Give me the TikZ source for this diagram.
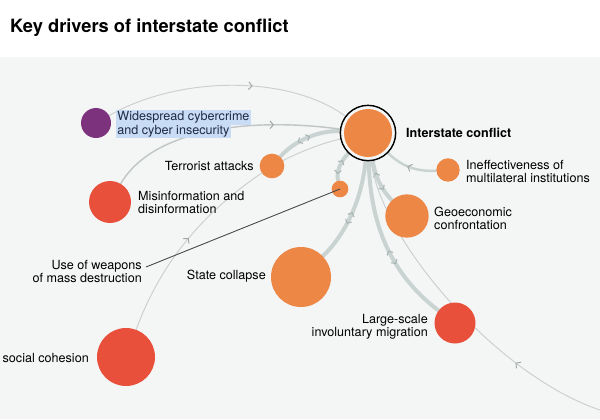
\documentclass[tikz,border=0pt]{standalone}
\usepackage{fontspec}
\setmainfont{TeX Gyre Heros}
\usetikzlibrary{arrows.meta,decorations.markings}
\definecolor{panel}{HTML}{F4F5F5}
\definecolor{hubfill}{HTML}{EC8746}
\definecolor{redfill}{HTML}{E9503C}
\definecolor{cyberfill}{HTML}{7D327E}
\definecolor{linkgray}{HTML}{C9D3D1}
\definecolor{thingray}{HTML}{CACFCF}
\definecolor{tipgray}{HTML}{A9B5B4}
\definecolor{markblue}{HTML}{C8DCF5}
\definecolor{navy}{HTML}{1F2A44}
\pgfdeclarelayer{back}
\pgfsetlayers{back,main}

\begin{document}
\begin{tikzpicture}[
  x=0.03cm, y=-0.03cm,
  lbl/.style={font=\fontsize{10.75}{11.1}\selectfont, inner sep=0pt, align=left},
  rlbl/.style={lbl, align=right},
  risk/.style={circle, inner sep=0pt, outer sep=0pt, fill=hubfill},
  redrisk/.style={risk, fill=redfill},
  hub/.style={circle, inner sep=0pt, outer sep=0pt, minimum size=1.66cm,
    draw=black, line width=1.2pt, fill=panel,
    path picture={\fill[hubfill] (path picture bounding box.center) circle (0.72cm);}},
  cyberbox/.style={lbl, fill=markblue, text=navy, inner xsep=1pt, inner ysep=0.9pt,
    text height=8pt, text depth=2.4pt, anchor=west},
  thinlink/.style={draw=thingray, line width=0.8pt},
  midlink/.style={draw=thingray!95!black, line width=1.2pt},
  thicklink/.style={draw=linkgray, line width=3.4pt},
  leader/.style={draw=black!72, line width=0.75pt},
  fwd/.style={postaction={decorate, decoration={markings,
    mark=at position #1 with {\arrow[thingray!80!black]{Straight Barb[length=3pt,width=6.5pt,line width=0.8pt]}}}}},
  dual/.style 2 args={postaction={decorate, decoration={markings,
    mark=at position #1 with {\arrowreversed[tipgray]{Straight Barb[length=2.6pt,width=5.8pt,line width=0.9pt]}},
    mark=at position #2 with {\arrow[tipgray]{Straight Barb[length=2.6pt,width=5.8pt,line width=0.9pt]}}}}}
]
  \useasboundingbox (0,0) rectangle (600,419);

  \node[hub] (ic) at (368,133) {};
  \node[risk, fill=cyberfill, minimum size=0.9cm] (cyber) at (96,123) {};
  \node[risk, minimum size=0.74cm] (terror) at (272,166) {};
  \node[redrisk, minimum size=1.26cm] (misinfo) at (110,202) {};
  \node[risk, minimum size=0.5cm] (wmd) at (340,189) {};
  \node[risk, minimum size=0.7cm] (ineff) at (448,170) {};
  \node[risk, minimum size=1.3cm] (geo) at (407,216) {};
  \node[risk, minimum size=1.8cm] (state) at (301,277) {};
  \node[redrisk, minimum size=1.23cm] (migr) at (455,323) {};
  \node[redrisk, minimum size=1.74cm] (social) at (126,357) {};
  \coordinate (far) at (606,412);

  \node[font=\fontsize{15.6}{18}\selectfont\bfseries, inner sep=0pt, anchor=west] (titlelbl) at (10,28) {Key drivers of interstate conflict};
  \node[lbl, font=\fontsize{10.75}{11.1}\selectfont\bfseries, anchor=west] (iclbl) at (406,133) {Interstate conflict};
  \node[cyberbox] (cyberlbla) at (116,117.5) {Widespread cybercrime};
  \node[cyberbox] (cyberlblb) at (116,131) {and cyber insecurity};
  \node[rlbl, anchor=east] (terrorlbl) at (254,166) {Terrorist attacks};
  \node[lbl, anchor=west] (misinfolbl) at (138,202.5) {Misinformation and\\disinformation};
  \node[rlbl, anchor=east] (wmdlbl) at (142,271) {Use of weapons\\of mass destruction};
  \node[rlbl, anchor=east] (statelbl) at (266,276) {State collapse};
  \node[lbl, anchor=west] (inefflbl) at (466,171.5) {Ineffectiveness of\\multilateral institutions};
  \node[lbl, anchor=west] (geolbl) at (434,218.5) {Geoeconomic\\confrontation};
  \node[rlbl, anchor=east] (migrlbl) at (428,326.5) {Large-scale\\involuntary migration};
  \node[rlbl, anchor=east] (sociallbl) at (89,358) {social cohesion};

  \draw[leader] ([shift={(4,-4)}]wmdlbl.east) -- (wmd.center);

  \begin{pgfonlayer}{back}
  \fill[white] (0,0) rectangle (600,57);
  \fill[panel] (0,57) rectangle (600,419);
  \draw[thicklink, dual={0.34}{0.54}] (terror) .. controls (295,140) and (320,130) .. (ic);
  \draw[thicklink, dual={0.22}{0.7}] (wmd) .. controls (336,172) and (340,162) .. (ic);
  \draw[thicklink, dual={0.38}{0.5}] (state) .. controls (345,235) and (362,200) .. (ic);
  \draw[thicklink, dual={0.54}{0.63}] (ic) .. controls (370,215) and (385,270) .. (migr);
  \draw[thicklink, dual={0.28}{0.7}] (ic) .. controls (375,175) and (380,188) .. (geo);
  \draw[draw=linkgray, line width=2.1pt, fwd=0.55] (ineff) .. controls (415,172) and (400,165) .. (ic);
  \draw[thinlink, fwd=0.6] (cyber) .. controls (180,75) and (290,75) .. (ic);
  \draw[midlink, fwd=0.72] (misinfo) .. controls (155,125) and (260,118) .. (ic);
  \draw[thinlink, fwd=0.52] (social) .. controls (160,265) and (200,215) .. (terror);
  \draw[thinlink] (terror) .. controls (300,152) and (322,143) .. (ic);
  \draw[thinlink, fwd=0.29] (far) .. controls (500,380) and (380,240) .. (ic);
  \end{pgfonlayer}
\end{tikzpicture}
\end{document}
